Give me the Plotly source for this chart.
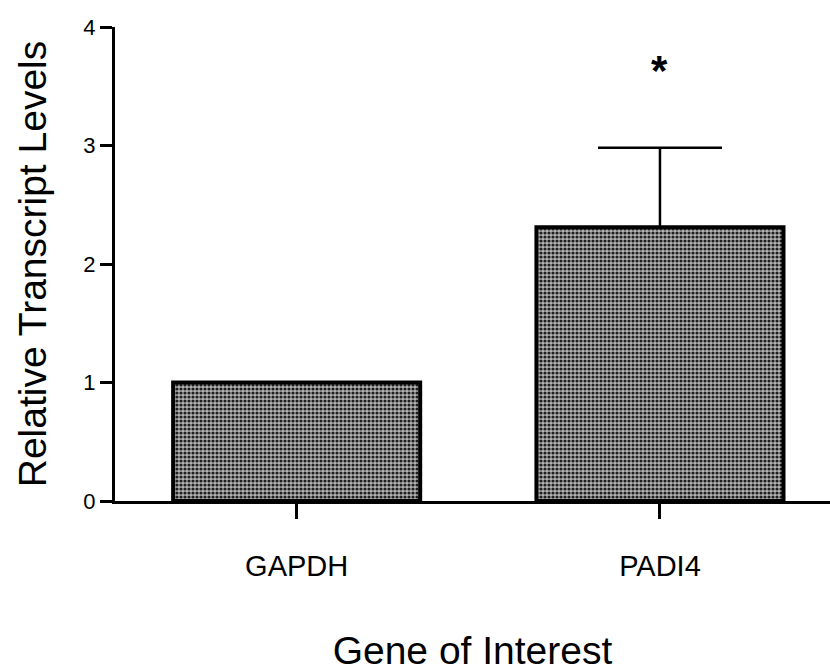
import plotly.graph_objects as go

genes = ["GAPDH", "PADI4"]
levels = [1.0, 2.31]
err_upper = [0.0, 0.67]
significance = ["", "*"]
star_y = [None, 3.66]

fig = go.Figure()
fig.add_trace(go.Bar(
    x=genes,
    y=levels,
    width=0.68,
    marker=dict(
        color="#a8a8a8",
        line=dict(color="black", width=4),
        pattern=dict(shape=".", size=4, solidity=0.5,
                     fgcolor="#1e1e1e", bgcolor="#b4b4b4", fillmode="replace"),
    ),
    error_y=dict(type="data", symmetric=False, array=err_upper,
                 arrayminus=[0, 0], color="black", thickness=2.5, width=62),
    showlegend=False,
))

for g, s, yv in zip(genes, significance, star_y):
    if s:
        fig.add_annotation(x=g, y=yv, text="<b>" + s + "</b>", showarrow=False,
                           font=dict(size=42, color="black", family="Liberation Sans"),
                           yanchor="middle", yshift=-3)

fig.update_layout(
    width=830, height=672,
    margin=dict(l=115, r=0, t=27, b=171, autoexpand=False),
    plot_bgcolor="white", paper_bgcolor="white",
    font=dict(family="Liberation Sans, Arial, sans-serif", color="black"),
)
fig.update_xaxes(
    range=[-0.5, 1.468],
    showline=True, linecolor="black", linewidth=3,
    ticks="outside", ticklen=15, tickwidth=3, tickcolor="black",
    tickfont=dict(size=29), ticklabelstandoff=22,
    showgrid=False, zeroline=False, automargin=False,
    title=dict(text="Gene of Interest", font=dict(size=39), standoff=56),
)
fig.update_yaxes(
    range=[0, 4], tickvals=[0, 1, 2, 3, 4],
    showline=True, linecolor="black", linewidth=3,
    ticks="outside", ticklen=12, tickwidth=2.5, tickcolor="black",
    tickfont=dict(size=22),
    showgrid=False, zeroline=False, automargin=False,
    title=dict(text="Relative Transcript Levels", font=dict(size=39), standoff=25),
)

fig.write_html("out.html")
